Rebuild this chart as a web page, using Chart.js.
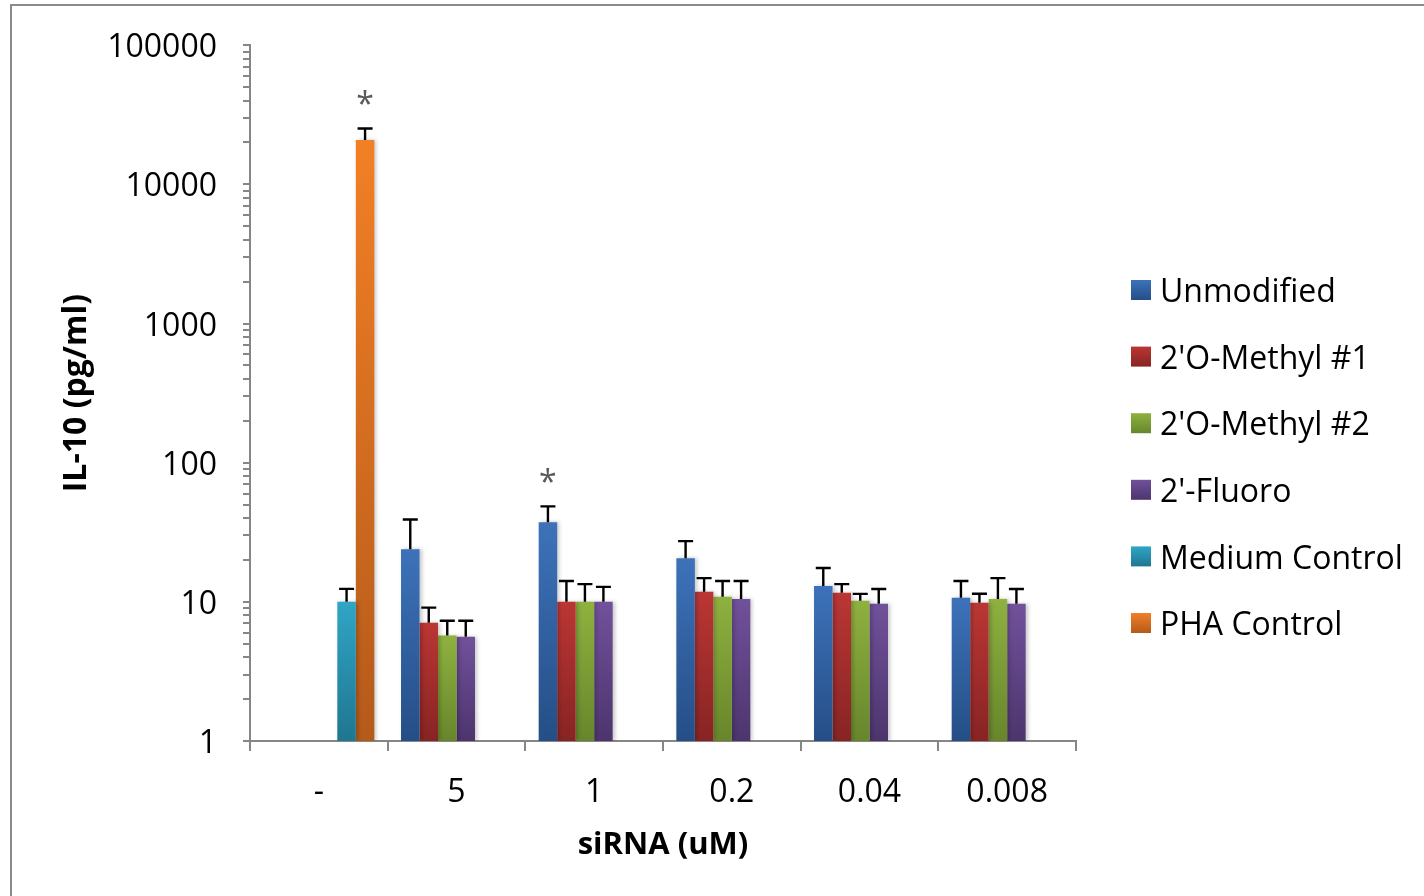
<!DOCTYPE html>
<html>
<head>
<meta charset="utf-8">
<script src="https://cdn.jsdelivr.net/npm/chart.js@4.4.1/dist/chart.umd.min.js"></script>
<style>
  html, body { margin: 0; padding: 0; background: #ffffff; }
  #wrap { width: 1424px; height: 896px; }
</style>
</head>
<body>
<div id="wrap"><canvas id="c" width="1424" height="896"></canvas></div>
<script>
// ---------- data ----------
const categories = ['-', '5', '1', '0.2', '0.04', '0.008'];
const seriesNames = ['Unmodified', "2'O-Methyl #1", "2'O-Methyl #2", "2'-Fluoro", 'Medium Control', 'PHA Control'];

const unmodified   = [null, 23.9, 37.3, 20.6, 13.0, 10.7];
const oMethyl1     = [null, 7.08, 10.0, 11.8, 11.6, 9.84];
const oMethyl2     = [null, 5.72, 10.0, 10.9, 10.2, 10.5];
const fluoro       = [null, 5.62, 10.0, 10.5, 9.68, 9.68];
const mediumCtrl   = [10.0, null, null, null, null, null];
const phaCtrl      = [20800, null, null, null, null, null];

// upper error amounts (added on top of each bar)
const unmodifiedErr = [null, 15.2, 11.2, 6.7, 4.5, 3.4];
const oMethyl1Err   = [null, 2.0, 4.1, 3.0, 1.8, 1.6];
const oMethyl2Err   = [null, 1.6, 3.4, 3.2, 1.2, 4.3];
const fluoroErr     = [null, 1.7, 2.8, 3.6, 2.7, 2.7];
const mediumErr     = [2.4, null, null, null, null, null];
const phaErr        = [4400, null, null, null, null, null];

// significance markers (*)
const unmodifiedSig = [false, false, true, false, false, false];
const phaSig        = [true, false, false, false, false, false];

const yTickLabels = [1, 10, 100, 1000, 10000, 100000];

// ---------- styles ----------
const gradTop    = ['#3d72ba', '#bb3634', '#8fb13f', '#71519b', '#30a5c6', '#f28025'];
const gradBottom = ['#254e86', '#872423', '#67862c', '#4c356d', '#1f7690', '#b45a1b'];
const FONT = "'Open Sans', sans-serif";

function barGradient(ctx) {
  const i = ctx.datasetIndex;
  if (ctx.type !== 'data') return gradTop[i];
  const chart = ctx.chart;
  const area = chart.chartArea;
  const ys = chart.scales.y;
  if (!area || !ys || ctx.raw == null) return gradTop[i];
  const top = ys.getPixelForValue(ctx.raw);
  const bottom = area.bottom;
  if (!isFinite(top) || bottom - top < 1) return gradTop[i];
  const g = chart.ctx.createLinearGradient(0, top, 0, bottom);
  g.addColorStop(0, gradTop[i]);
  g.addColorStop(1, gradBottom[i]);
  return g;
}

const values = [unmodified, oMethyl1, oMethyl2, fluoro, mediumCtrl, phaCtrl];
const errors = [unmodifiedErr, oMethyl1Err, oMethyl2Err, fluoroErr, mediumErr, phaErr];
const sigs   = [unmodifiedSig, null, null, null, null, phaSig];

const datasets = seriesNames.map((name, i) => ({
  label: name,
  data: values[i],
  errorUp: errors[i],
  sig: sigs[i],
  backgroundColor: barGradient,
  borderWidth: 0,
  categoryPercentage: 0.806,
  barPercentage: 1.0
}));

// ---------- plugins ----------
const framePlugin = {
  id: 'frame',
  beforeDraw(chart) {
    const c = chart.ctx;
    c.save();
    c.fillStyle = '#ffffff';
    c.fillRect(0, 0, chart.width, chart.height);
    c.strokeStyle = '#8a8a8a';
    c.lineWidth = 2;
    c.strokeRect(11, 5, 1600, 1000);
    c.restore();
  }
};

const barsPlugin = {
  id: 'barsExtra',
  beforeDatasetsDraw(chart) {
    const c = chart.ctx;
    c.save();
    c.shadowColor = 'rgba(0,0,0,0.22)';
    c.shadowBlur = 4;
    c.shadowOffsetX = 2;
    c.shadowOffsetY = 0;
  },
  afterDatasetsDraw(chart) {
    const c = chart.ctx;
    c.restore();
    const ys = chart.scales.y;
    c.save();
    c.strokeStyle = '#000000';
    c.lineWidth = 2.4;
    chart.data.datasets.forEach((ds, di) => {
      const meta = chart.getDatasetMeta(di);
      meta.data.forEach((bar, j) => {
        const v = ds.data[j];
        const e = ds.errorUp ? ds.errorUp[j] : null;
        if (v == null || e == null) return;
        const yTop = ys.getPixelForValue(v + e);
        const x = bar.x;
        c.beginPath();
        c.moveTo(x, bar.y);
        c.lineTo(x, yTop);
        c.moveTo(x - 7.5, yTop);
        c.lineTo(x + 7.5, yTop);
        c.stroke();
        if (ds.sig && ds.sig[j]) {
          c.save();
          c.fillStyle = '#595959';
          c.font = "32px " + FONT;
          c.textAlign = 'center';
          c.textBaseline = 'middle';
          c.fillText('*', x, yTop - 23);
          c.restore();
        }
      });
    });
    c.restore();
  }
};

const legendPlugin = {
  id: 'sideLegend',
  afterDraw(chart) {
    const c = chart.ctx;
    c.save();
    c.font = "32px " + FONT;
    c.textBaseline = 'middle';
    c.textAlign = 'left';
    chart.data.datasets.forEach((ds, i) => {
      const cy = 290 + i * 66.6;
      const g = c.createLinearGradient(0, cy - 10, 0, cy + 10);
      g.addColorStop(0, gradTop[i]);
      g.addColorStop(1, gradBottom[i]);
      c.fillStyle = g;
      c.fillRect(1131, cy - 10, 20, 20);
      c.fillStyle = '#000000';
      c.fillText(ds.label, 1160, cy + 3);
    });
    c.restore();
  }
};

// ---------- chart ----------
new Chart(document.getElementById('c'), {
  type: 'bar',
  data: { labels: categories, datasets },
  options: {
    responsive: false,
    devicePixelRatio: 1,
    animation: false,
    events: [],
    layout: { padding: { top: 41, right: 348, bottom: 0, left: 0 } },
    plugins: {
      legend: { display: false },
      tooltip: { enabled: false }
    },
    scales: {
      x: {
        type: 'category',
        offset: true,
        grid: {
          offset: true,
          drawOnChartArea: false,
          drawTicks: true,
          tickLength: 10,
          color: '#868686',
          lineWidth: 2
        },
        border: { display: true, color: '#868686', width: 2 },
        ticks: { color: '#000000', font: { family: FONT, size: 32 }, padding: 23, maxRotation: 0 },
        title: {
          display: true,
          text: 'siRNA (uM)',
          color: '#000000',
          font: { family: FONT, size: 31, weight: 'bold' },
          padding: { top: 0, bottom: 32 }
        },
        afterFit(scale) { scale.height = 155; }
      },
      y: {
        type: 'logarithmic',
        min: 1,
        max: 100000,
        afterBuildTicks(scale) {
          const t = [];
          yTickLabels.forEach((d, k) => {
            t.push({ value: d });
            if (k < yTickLabels.length - 1) {
              for (let m = 2; m <= 9; m++) t.push({ value: d * m });
            }
          });
          scale.ticks = t;
        },
        grid: {
          drawOnChartArea: false,
          drawTicks: true,
          tickLength: 7,
          color: '#868686',
          lineWidth: 2
        },
        border: { display: true, color: '#868686', width: 2 },
        ticks: {
          autoSkip: false,
          color: '#000000',
          font: { family: FONT, size: 32 },
          padding: 26,
          labelOffset: 3,
          callback(v) { return yTickLabels.includes(v) ? String(v) : ''; }
        },
        title: {
          display: true,
          text: 'IL-10 (pg/ml)',
          color: '#000000',
          font: { family: FONT, size: 32, weight: 'bold' },
          padding: { top: 58, bottom: 0 }
        },
        afterFit(scale) { scale.width = 250; }
      }
    }
  },
  plugins: [framePlugin, barsPlugin, legendPlugin]
});
</script>
</body>
</html>
